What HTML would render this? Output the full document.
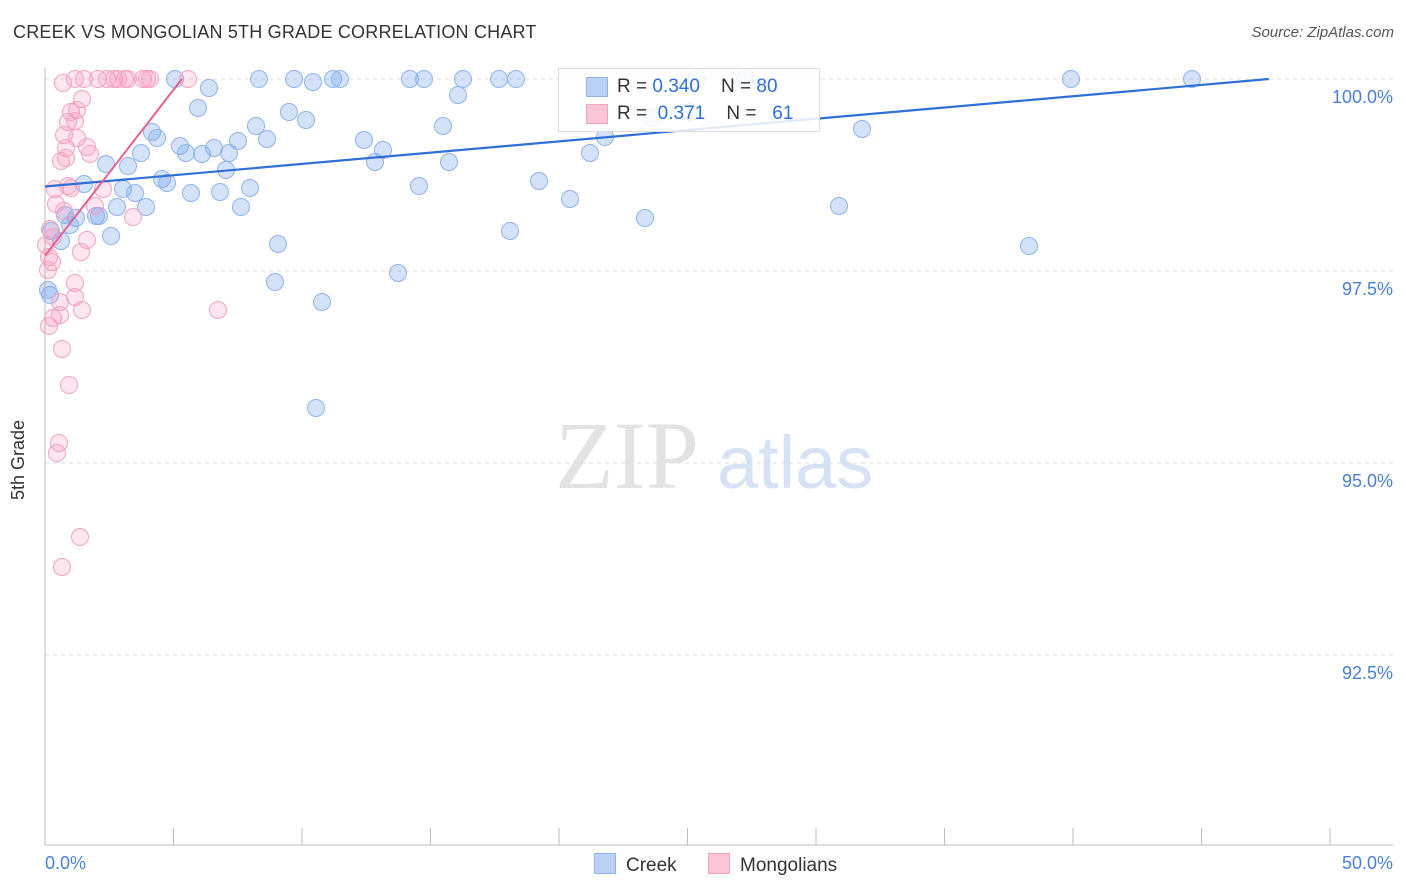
<!DOCTYPE html>
<html><head><meta charset="utf-8"><style>
body{margin:0;background:#fff;font-family:"Liberation Sans",sans-serif;}
#wrap{position:relative;width:1406px;height:892px;overflow:hidden}
.t{position:absolute;white-space:nowrap}
</style></head><body>
<div id="wrap">
<div class="t" style="left:13px;top:22px;font-size:18px;color:#333;letter-spacing:0.2px">CREEK VS MONGOLIAN 5TH GRADE CORRELATION CHART</div>
<div class="t" style="right:12px;top:24px;font-size:15px;color:#555;font-style:italic">Source: ZipAtlas.com</div>
<svg id="svg" width="1406" height="892" style="position:absolute;left:0;top:0"></svg>
</div>
<script>
const blueX=[175,209,259,294,313,333,340,410,424,463,499,516,198,289,306,458,443,152,157,180,186,202,214,229,238,256,267,364,383,375,449,141,106,128,226,162,167,84,123,135,191,220,250,419,539,570,146,117,241,65,76,96,99,70,111,51,61,278,398,275,322,316,510,645,839,1029,590,605,862,1071,1192,652,690,745,697,50,48].map(p=>(p-45)/1285*50);
const blueY=[79,88,79,79,82,79,79,79,79,79,79,79,108,112,120,95,126,132,138,146,153,154,148,153,141,126,139,140,150,162,162,153,164,166,170,179,183,184,189,193,193,192,188,186,181,199,207,207,207,215,218,216,216,225,236,231,241,244,273,282,302,408,231,218,206,246,153,137,129,79,79,118,112,79,79,295,290].map(p=>100-(p-79)/192*2.5);
const pinkX=[63,75,84,98,107,114,118,125,128,143,147,150,188,82,71,77,68,75,64,77,66,87,90,61,66,68,71,103,55,56,64,95,133,50,53,46,87,81,49,52,75,75,60,82,218,53,49,62,69,59,57,80,62,48,60].map(p=>(p-45)/1285*50);
const pinkY=[83,79,79,79,79,79,79,79,79,79,79,79,79,99,112,110,122,121,135,138,148,147,154,161,158,186,188,189,189,204,211,206,217,229,237,245,240,252,257,262,283,297,302,310,310,318,326,349,385,443,453,537,567,270,315].map(p=>100-(p-79)/192*2.5);
const yTicks=[100,97.5,95,92.5];
const yTickLabels=["100.0%","97.5%","95.0%","92.5%"];
const blueLine=[98.6,0.0294]; // intercept, slope per %
const pinkLine=[97.7,0.432];

const svg=document.getElementById('svg');const NS='http://www.w3.org/2000/svg';
const X=v=>45+v/50*1285, Y=v=>79+(100-v)/2.5*192;
function el(t,a,p){const e=document.createElementNS(NS,t);for(const k in a)e.setAttribute(k,a[k]);(p||svg).appendChild(e);return e;}
yTicks.forEach((v,i)=>{
 const g=el('line',{x1:45,x2:1393,y1:Y(v),y2:Y(v),stroke:'#ddd','stroke-dasharray':'4,4'});
 
 
 const t=el('text',{x:1393,y:Y(v)+24,'text-anchor':'end',fill:'#4a7fd4','font-size':18,'font-family':'Liberation Sans'});
 t.textContent=yTickLabels[i];
 
 
});
el('line',{x1:45,x2:45,y1:68,y2:845,stroke:'#bbb'});
el('line',{x1:45,x2:1393,y1:845,y2:845,stroke:'#bbb'});
for(let i=0;i<=10;i++){const tk=el('line',{x1:X(i*5),x2:X(i*5),y1:828,y2:845,stroke:'#bbb'});
 
 }
const wm=el('text',{x:555,y:488,fill:'#e2e2e2','font-size':96,'font-family':'Liberation Serif'});wm.textContent='ZIP';
const wm2=el('text',{x:717,y:488,fill:'#d6e2f3','font-size':74,'font-family':'Liberation Sans'});wm2.textContent='atlas';


blueX.forEach((x,i)=>{const c=el('circle',{cx:X(x),cy:Y(blueY[i]),r:8.5,fill:'rgba(110,160,235,0.3)',stroke:'#8fb3ea','stroke-width':1});
 
 });
pinkX.forEach((x,i)=>{const c=el('circle',{cx:X(x),cy:Y(pinkY[i]),r:8.5,fill:'rgba(245,140,180,0.22)',stroke:'#f2a3c0','stroke-width':1});
 
 });
const bx2=Math.min(50,(100-blueLine[0])/blueLine[1]);
const bl=el('line',{x1:X(0),y1:Y(blueLine[0]),x2:X(bx2),y2:Y(blueLine[0]+blueLine[1]*bx2),stroke:'#2f6fd6','stroke-width':2.2});


const px2=Math.min(50,(100-pinkLine[0])/pinkLine[1]);
const pl=el('line',{x1:X(0),y1:Y(pinkLine[0]),x2:X(px2),y2:Y(pinkLine[0]+pinkLine[1]*px2),stroke:'#e8608e','stroke-width':2});


</script>
<div class="t" style="left:558px;top:68px;width:260px;height:62px;background:rgba(255,255,255,0.85);border:1px solid #ddd;font-size:19px;color:#333">
 <div style="position:absolute;left:27px;top:8px;width:20px;height:18px;background:#b9d1f5;border:1px solid #8fb3ea"></div>
 <div class="t" style="left:58px;top:7px">R = <span style="color:#2f6fd6">0.340</span>&nbsp;&nbsp;&nbsp; N = <span style="color:#2f6fd6">80</span></div>
 <div style="position:absolute;left:27px;top:35px;width:20px;height:18px;background:#fac5d6;border:1px solid #f2a3c0"></div>
 <div class="t" style="left:58px;top:34px">R = &nbsp;<span style="color:#2f6fd6">0.371</span>&nbsp;&nbsp;&nbsp; N = &nbsp; <span style="color:#2f6fd6">61</span></div>
</div>
<div class="t" style="left:45px;top:853px;font-size:18px;color:#4a7fd4">0.0%</div>
<div class="t" style="right:13px;top:853px;font-size:18px;color:#4a7fd4">50.0%</div>
<div class="t" style="left:8px;top:500px;font-size:18px;color:#333;transform:rotate(-90deg);transform-origin:0 0">5th Grade</div>
<div class="t" style="left:594px;top:853px;font-size:19px;color:#333"><span style="display:inline-block;width:20px;height:19px;background:#b9d1f5;border:1px solid #8fb3ea;vertical-align:-3px;margin-right:10px"></span>Creek</div>
<div class="t" style="left:708px;top:853px;font-size:19px;color:#333"><span style="display:inline-block;width:20px;height:19px;background:#fac5d6;border:1px solid #f2a3c0;vertical-align:-3px;margin-right:10px"></span>Mongolians</div>
</body></html>
